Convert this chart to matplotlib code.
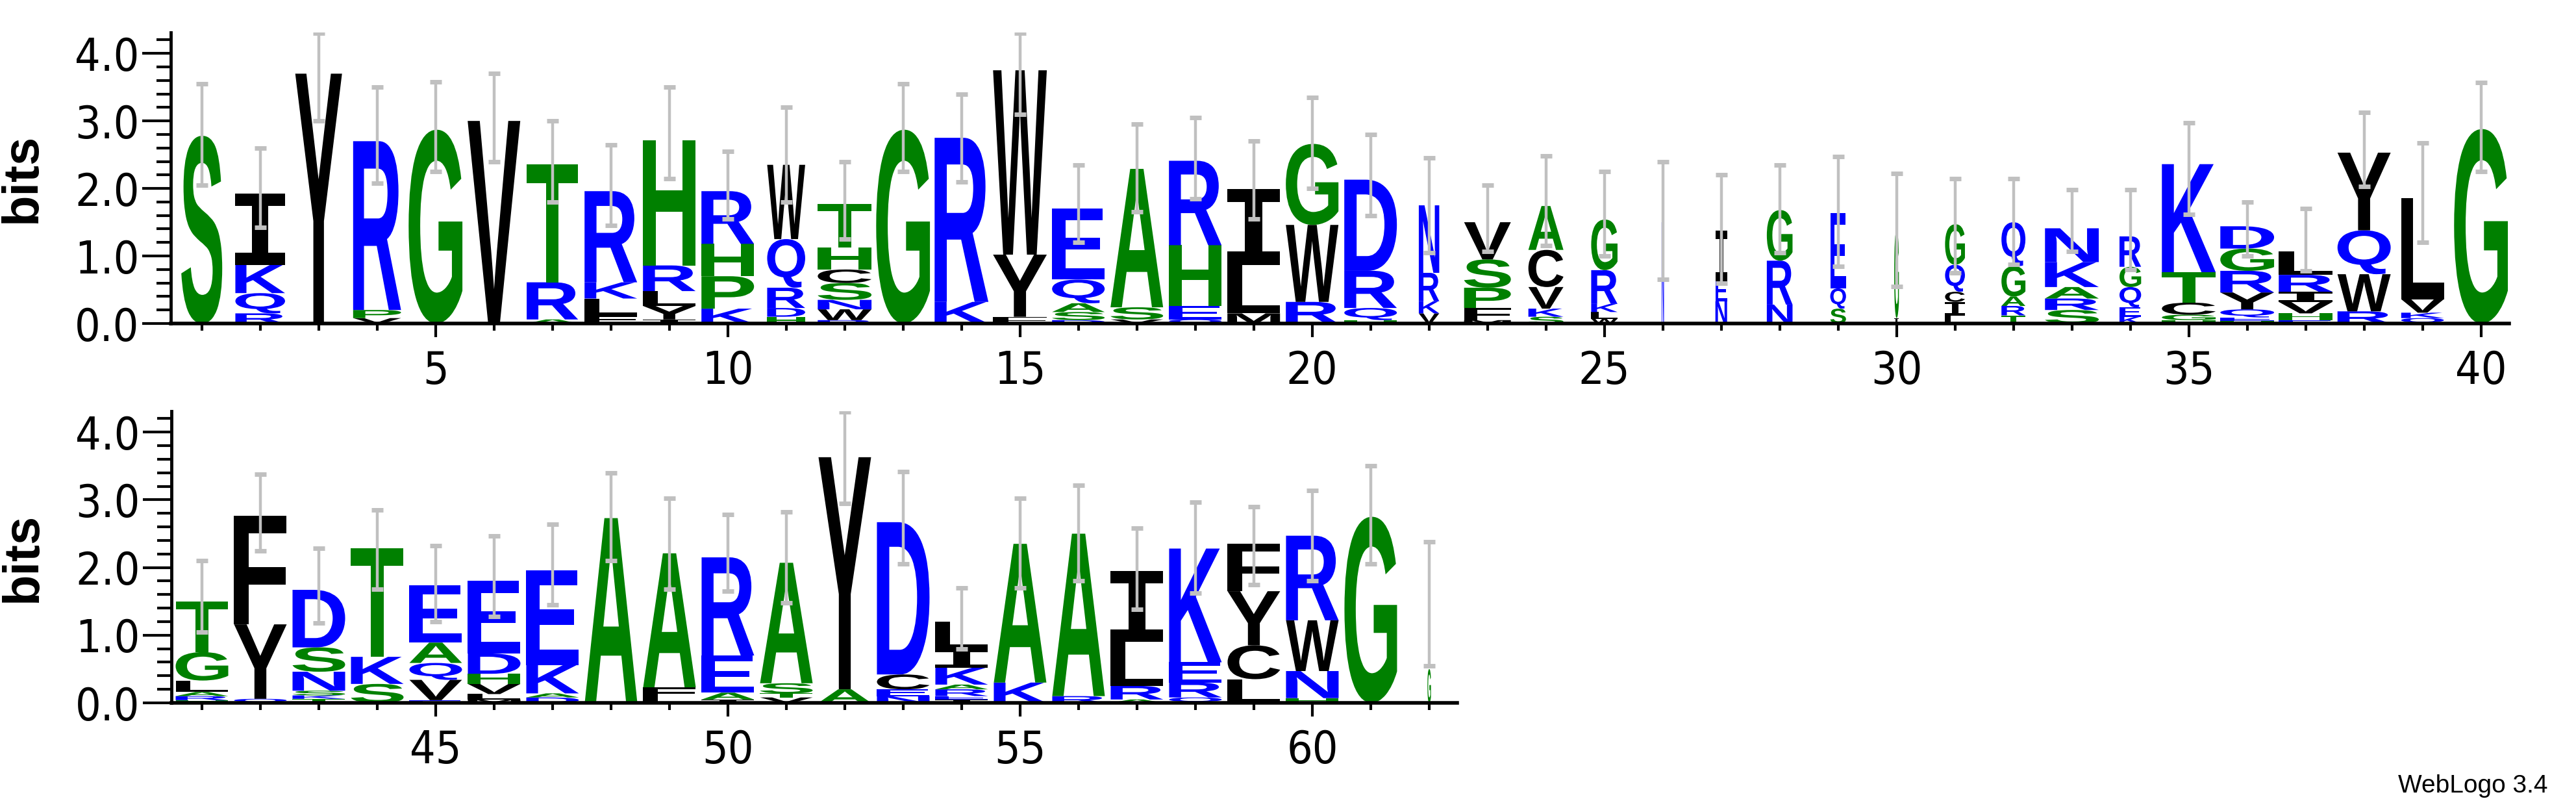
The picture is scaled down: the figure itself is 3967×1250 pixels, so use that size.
import matplotlib
matplotlib.use("Agg")
import matplotlib.pyplot as plt
from matplotlib.textpath import TextPath
from matplotlib.font_manager import FontProperties
from matplotlib.patches import PathPatch
from matplotlib.transforms import Affine2D

# letters of each column, bottom -> top
stacks = ["S", "RQKI", "Y", "VPR", "G", "V", "ART", "FLKR", "IYLRH", "KPHR",
          "HDRQW", "RWNSCHT", "G", "KR", "FYW", "DSAQE", "VSA", "QEHR", "MLI", "RWG",
          "HQRD", "VKRN", "MFPSV", "SKVCA", "WLKRG", "N", "NEI", "NRG", "SQE", "IG",
          "LICQG", "TRAGQ", "SRAKN", "KEQGR", "HGCTK", "HEQYRGD", "EHVIRL", "RWQY", "QKVL", "G",
          "HRALGT", "QYF", "TKSNSD", "SKT", "EVQAE", "MLVHDE", "DAKE", "A", "LFA", "IAER",
          "VTSA", "AY", "NECD", "IERAKIL", "KA", "RA", "ARLI", "QREK", "LCYF", "HNWR",
          "G", "G"]

heights = [[2.78], [.15, .3, .42, 1.05], [3.7], [.08, .12, 2.5], [2.87], [3.0],
           [.06, .55, 1.75], [.12, .25, .24, 1.35], [.06, .2, .22, .38, 1.85],
           [.22, .48, .48, .78], [.1, .13, .3, .72, 1.1],
           [.05, .16, .14, .25, .2, .33, .64], [2.87], [.32, 2.43], [.1, .92, 2.73],
           [.05, .12, .13, .35, 1.05], [.06, .18, 2.05], [.06, .2, .9, 1.25],
           [.15, .72, 1.12], [.32, 1.14, 1.2], [.05, .18, .55, 1.35],
           [.15, .18, .42, 1.0], [.05, .18, .3, .42, .55], [.1, .12, .32, .55, .65],
           [.07, .1, .12, .5, .75], [1.5], [.33, .3, .75], [.28, .65, .75],
           [.22, .3, 1.12], [.08, 1.3], [.12, .2, .15, .4, .6], [.12, .14, .14, .45, .65],
           [.2, .17, .17, .37, .5], [.1, .14, .3, .3, .45], [.05, .08, .18, .45, 1.6],
           [.04, .05, .12, .25, .32, .33, .33], [.05, .1, .17, .15, .25, .35],
           [.18, .55, .65, 1.15], [.08, .08, .2, 1.5], [2.88],
           [.04, .06, .06, .17, .42, .75], [.06, 1.1, 1.6], [.06, .05, .07, .28, .36, .85],
           [.28, .4, 1.6], [.04, .3, .25, .3, .85], [.05, .08, .15, .15, .3, 1.07],
           [.08, .06, .42, 1.4], [2.73], [.08, .15, 1.98], [.05, .1, .55, 1.45],
           [.08, .06, .15, 1.78], [.2, 3.43], [.1, .1, .22, 2.25],
           [.05, .05, .1, .07, .25, .28, .4], [.3, 2.05], [.1, 2.4], [.05, .2, .65, 1.05],
           [.08, .22, .3, 1.68], [.35, .5, .8, .7], [.07, .4, .75, 1.25], [2.75], [.5]]

widths = [.7, .85, .8, .82, .92, .9, .88, .9, .9, .9,
          .65, .92, .92, .92, .92, .9, .9, .9, .9, .9,
          .9, .35, .8, .6, .45, .04, .2, .44, .27, .08,
          .34, .41, .92, .37, .92, .92, .92, .91, .73, .92,
          .9, .9, .9, .9, .9, .9, .9, .9, .9, .9,
          .9, .9, .9, .9, .9, .9, .9, .9, .9, .9,
          .9, .06]

err_lo = [2.05, 1.42, 3.0, 2.08, 2.25, 2.4, 1.8, 1.45, 2.15, 1.55,
          1.8, 1.25, 2.25, 2.1, 3.1, 1.2, 1.65, 1.85, 1.55, 2.0,
          1.6, 1.05, 1.07, 1.15, 1.0, .65, .6, 1.05, .85, .55,
          .75, .88, 1.07, .8, 1.62, 1.0, .78, 2.03, 1.2, 2.25,
          1.05, 2.25, 1.18, 1.68, 1.2, 1.28, 1.45, 2.1, 1.68, 1.65,
          1.48, 2.95, 2.05, .8, 1.7, 1.8, 1.38, 1.62, 1.75, 1.8,
          2.05, .55]
err_hi = [3.55, 2.6, 4.3, 3.5, 3.58, 3.7, 3.0, 2.65, 3.5, 2.55,
          3.2, 2.4, 3.55, 3.4, 4.3, 2.35, 2.95, 3.05, 2.7, 3.35,
          2.8, 2.45, 2.05, 2.48, 2.25, 2.4, 2.2, 2.35, 2.47, 2.22,
          2.15, 2.15, 1.98, 1.98, 2.97, 1.8, 1.7, 3.13, 2.67, 3.57,
          2.1, 3.38, 2.28, 2.85, 2.32, 2.47, 2.64, 3.4, 3.02, 2.78,
          2.82, 4.3, 3.42, 1.7, 3.02, 3.22, 2.58, 2.97, 2.9, 3.14,
          3.5, 2.38]

positions = list(range(1, len(stacks) + 1))

colors = {}
for c in "GSTAHP":
    colors[c] = "#008000"
for c in "RKQNDE":
    colors[c] = "#0000ff"

fp_main = FontProperties(family=["Liberation Sans", "DejaVu Sans"], weight="bold")
fp_i = FontProperties(family="DejaVu Sans Mono", weight="bold")
glyphs = {}


def glyph(ch):
    if ch not in glyphs:
        p = TextPath((0, 0), ch, size=1, prop=fp_i if ch == "I" else fp_main)
        glyphs[ch] = (p, p.get_extents())
    return glyphs[ch]


def draw_letter(ax, ch, xc, y0, w, h):
    p, ext = glyph(ch)
    t = (Affine2D().translate(-ext.x0, -ext.y0)
         .scale(w / ext.width, h / ext.height)
         .translate(xc - w / 2, y0))
    ax.add_patch(PathPatch(t.transform_path(p), fc=colors.get(ch, "black"), lw=0))


tick_fp = FontProperties(family=["DejaVu Sans"], stretch="condensed", size=50)

fig = plt.figure(figsize=(39.67, 12.5), dpi=100)
panels = [(range(0, 40), [0.0663, 0.6016, 0.9077, 0.3584], (0.47, 40.48), -0.0533),
          (range(40, 62), [0.0666, 0.1344, 0.4991, 0.3592], (40.48, 62.48), -0.097)]

for idx, rect, xl, lab_x in panels:
    ax = fig.add_axes(rect)
    for i in idx:
        x = positions[i]
        y = 0.0
        for ch, h in zip(stacks[i], heights[i]):
            draw_letter(ax, ch, x, y, widths[i], h)
            y += h
        ax.vlines(x, err_lo[i], err_hi[i], color="#c0c0c0", lw=3.2, zorder=5)
        ax.hlines([err_lo[i], err_hi[i]], x - 0.1, x + 0.1, color="#c0c0c0", lw=5, zorder=5)
    ax.set_xlim(*xl)
    ax.set_ylim(0, 4.31)
    for s in ["top", "right"]:
        ax.spines[s].set_visible(False)
    ax.spines["left"].set_linewidth(3.5)
    ax.spines["bottom"].set_linewidth(4)
    ax.set_yticks([0, 1, 2, 3, 4])
    ax.set_yticks([k * 0.2 for k in range(22)], minor=True)
    ax.set_yticklabels(["0.0", "1.0", "2.0", "3.0", "4.0"], fontproperties=tick_fp)
    major_x = [p for p in positions[idx.start:idx.stop] if p % 5 == 0]
    ax.set_xticks(major_x)
    ax.set_xticks(positions[idx.start:idx.stop], minor=True)
    ax.set_xticklabels([str(p) for p in major_x], fontproperties=tick_fp)
    ax.tick_params(axis="y", which="major", length=32, width=3, pad=3)
    ax.tick_params(axis="y", which="minor", length=16, width=3)
    ax.tick_params(axis="x", which="major", length=15, width=3, pad=14)
    ax.tick_params(axis="x", which="minor", length=8, width=3)
    ax.set_ylabel("bits", fontsize=56, fontweight="bold",
                  family=["Liberation Sans", "DejaVu Sans"])
    ax.yaxis.set_label_coords(lab_x, 0.5)

fig.text(0.989, 0.018, "WebLogo 3.4", ha="right", va="bottom", fontsize=28,
         family=["Liberation Sans", "DejaVu Sans"])
fig.savefig("out.png", dpi=100)
